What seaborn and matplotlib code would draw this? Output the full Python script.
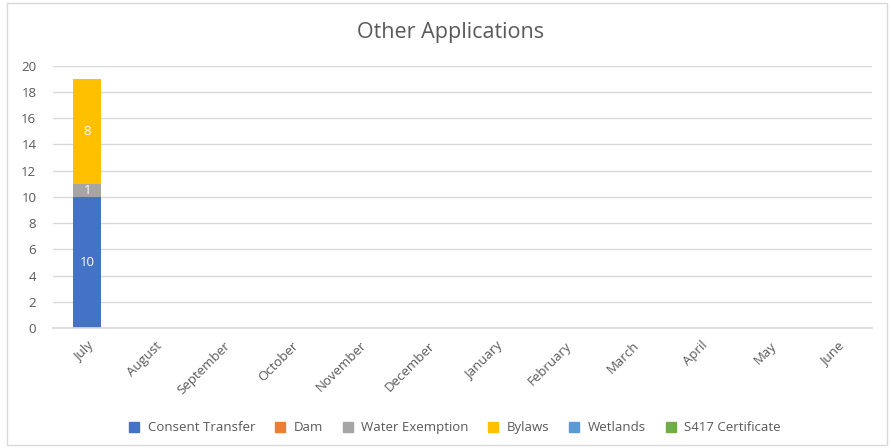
import numpy as np
import pandas as pd
import matplotlib
matplotlib.use("Agg")
import matplotlib.pyplot as plt
import seaborn as sns
from matplotlib.patches import Rectangle
from matplotlib.lines import Line2D

# --------------------------
# DATA
# --------------------------
months = ["July", "August", "September", "October", "November", "December",
          "January", "February", "March", "April", "May", "June"]
consent_transfer = [10, 0, 0, 0, 0, 0, 0, 0, 0, 0, 0, 0]
dam = [0, 0, 0, 0, 0, 0, 0, 0, 0, 0, 0, 0]
water_exemption = [1, 0, 0, 0, 0, 0, 0, 0, 0, 0, 0, 0]
bylaws = [8, 0, 0, 0, 0, 0, 0, 0, 0, 0, 0, 0]
wetlands = [0, 0, 0, 0, 0, 0, 0, 0, 0, 0, 0, 0]
s417_certificate = [0, 0, 0, 0, 0, 0, 0, 0, 0, 0, 0, 0]

series_names = ["Consent Transfer", "Dam", "Water Exemption", "Bylaws",
                "Wetlands", "S417 Certificate"]
series_values = [consent_transfer, dam, water_exemption, bylaws,
                 wetlands, s417_certificate]
colors = ["#4472C4", "#ED7D31", "#A5A5A5", "#FFC000", "#5B9BD5", "#70AD47"]

# --------------------------
# STYLE
# --------------------------
sns.set_theme(style="white")
plt.rcParams["font.family"] = ["Open Sans", "DejaVu Sans"]
text_grey = "#595959"

fig = plt.figure(figsize=(8.91, 4.48), dpi=100)
fig.patches.append(Rectangle((0.008, 0.006), 0.988, 0.988, transform=fig.transFigure,
                             fill=False, edgecolor="#D9D9D9", linewidth=1))
ax = fig.add_axes([0.0595, 0.268, 0.919, 0.585])

# cumulative stacks, drawn from the top series down so lower ones overlay
df = pd.DataFrame({"month": months})
cum = np.zeros(len(months))
tops = []
for name, vals in zip(series_names, series_values):
    bottom = cum.copy()
    cum = cum + np.array(vals, dtype=float)
    tops.append((name, bottom, cum.copy(), vals))

for (name, bottom, top, vals), col in reversed(list(zip(tops, colors))):
    sns.barplot(x=df["month"], y=top, color=col, width=0.41, ax=ax,
                saturation=1, linewidth=0, order=months)

# segment labels
for name, bottom, top, vals in tops:
    for i, v in enumerate(vals):
        if v > 0:
            ax.text(i, (bottom[i] + top[i]) / 2, f"{v}", ha="center", va="center",
                    color="white", fontsize=9.5)

ax.set_ylim(0, 20)
ax.set_xlim(-0.5, len(months) - 0.5)
ax.set_yticks(range(0, 21, 2))
ax.yaxis.grid(True, color="#D9D9D9", linewidth=1)
ax.set_axisbelow(True)
for s in ["left", "right", "top"]:
    ax.spines[s].set_visible(False)
ax.spines["bottom"].set_color("#D9D9D9")
ax.set_xlabel("")
ax.set_ylabel("")
ax.tick_params(axis="both", length=0, colors=text_grey, labelsize=9.5)
ax.tick_params(axis="y", pad=12)
ax.tick_params(axis="x", pad=8)
plt.setp(ax.get_xticklabels(), rotation=45, ha="right", rotation_mode="anchor")

ax.set_title("Other Applications", fontsize=15.5, color=text_grey, pad=20, x=0.485)

handles = [Line2D([0], [0], marker="s", linestyle="", markersize=7,
                  markerfacecolor=c, markeredgecolor=c) for c in colors]
fig.legend(handles, series_names, loc="center", bbox_to_anchor=(0.506, 0.045),
           ncol=6, frameon=False, fontsize=9.5, labelcolor=text_grey,
           handletextpad=0.0, columnspacing=0.9)

fig.savefig("out.png", dpi=100, facecolor="white")
